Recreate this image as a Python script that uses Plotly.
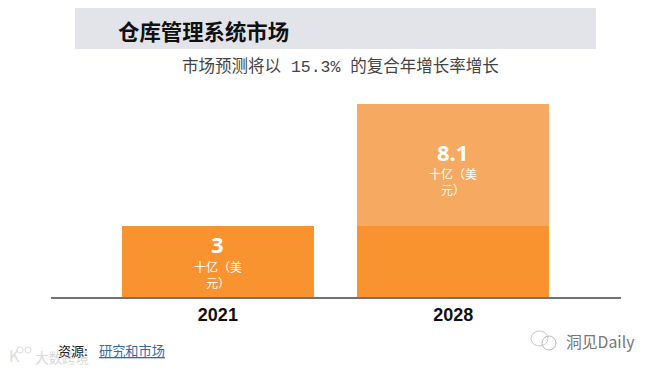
import plotly.graph_objects as go

years = ["2021", "2028"]
base_values = [3, 3]
growth_values = [0, 5.1]
totals = ["3", "8.1"]
unit_label = "十亿（美<br>元）"
title_text = "仓库管理系统市场"
subtitle_text = "市场预测将以 15.3% 的复合年增长率增长"
FW, FH = 645, 363  # page body adds an 8px margin on top/left
OFF = 8
L, R, T, B = 43, 32, 96, 74
CJK = "Noto Sans CJK SC"

# x, y below are window pixels
def px(x): return (x - OFF - L) / (FW - L - R)
def py(y): return 1 - (y - OFF - T) / (FH - T - B)

fig = go.Figure()
fig.add_bar(x=[0, 1], y=base_values, marker=dict(color="#F89330", line_width=0), width=0.815, hoverinfo="skip")
fig.add_bar(x=[0, 1], y=growth_values, marker=dict(color="#F6AA61", line_width=0), width=0.815, hoverinfo="skip")

annotations = []
def txt(x, y, s, size, color, anchor="center", family=CJK):
    annotations.append(dict(xref="paper", yref="paper", x=px(x), y=py(y), text=s, showarrow=False,
                            xanchor=anchor, yanchor="middle", align="center",
                            font=dict(size=size, color=color, family=family)))

txt(33, 357, "大数跨境", 13.5, "#D9D9D9", "left")
txt(7, 355, "K", 16, "#DDDDDD", "left")
txt(116, 30, "<b>" + title_text + "</b>", 21.4, "#111111", "left")
txt(340.5, 67, subtitle_text, 16.5, "#444444", family="Liberation Mono, Noto Sans CJK SC")
txt(217, 244, "<b>" + totals[0] + "</b>", 22, "#FFFFFF", family="Open Sans")
txt(218, 274, unit_label, 12, "#FFFFFF")
txt(452, 152, "<b>" + totals[1] + "</b>", 22, "#FFFFFF", family="Open Sans")
txt(453, 181, unit_label, 12, "#FFFFFF")
txt(56, 350, "资源:", 13, "#222222", "left")
txt(97, 350, '<span style="text-decoration:underline">研究和市场</span>', 13.2, "#2F6CA8", "left")
txt(564, 341, "洞见Daily", 15.8, "#777777", "left")

def ell(x0, y0, x1, y1, color="#C8C8C8"):
    return dict(type="circle", xref="paper", yref="paper", layer="above", fillcolor="rgba(0,0,0,0)",
                line=dict(color=color, width=1), x0=px(x0), x1=px(x1), y0=py(y1), y1=py(y0))

shapes = [
    dict(type="rect", xref="paper", yref="paper", layer="below", line_width=0,
         x0=px(75), x1=px(596), y0=py(49), y1=py(6), fillcolor="#E3E4E9"),
    ell(531, 331, 548, 346),
    ell(542, 336, 556, 350, "#B8B8B8"),
    ell(17, 347, 23, 353, "#DDDDDD"),
    ell(25, 347, 31, 353, "#DDDDDD"),
]

fig.update_layout(
    width=FW, height=FH, autosize=False,
    margin=dict(l=L, r=R, t=T, b=B), barmode="stack", showlegend=False,
    plot_bgcolor="white", paper_bgcolor="white",
    bargap=0,
    xaxis=dict(range=[-0.709, 1.713], tickmode="array", tickvals=[0, 1],
               ticktext=["<b>%s</b>" % y for y in years], showgrid=False, zeroline=False,
               ticks="", showline=True, linecolor="#6F7278", linewidth=2,
               tickfont=dict(family="Liberation Sans", size=18, color="#111111")),
    yaxis=dict(range=[0, 8.1], visible=False, showgrid=False, zeroline=False),
    annotations=annotations,
    shapes=shapes,
)
fig.write_html("out.html", config=dict(displayModeBar=False, responsive=False))
